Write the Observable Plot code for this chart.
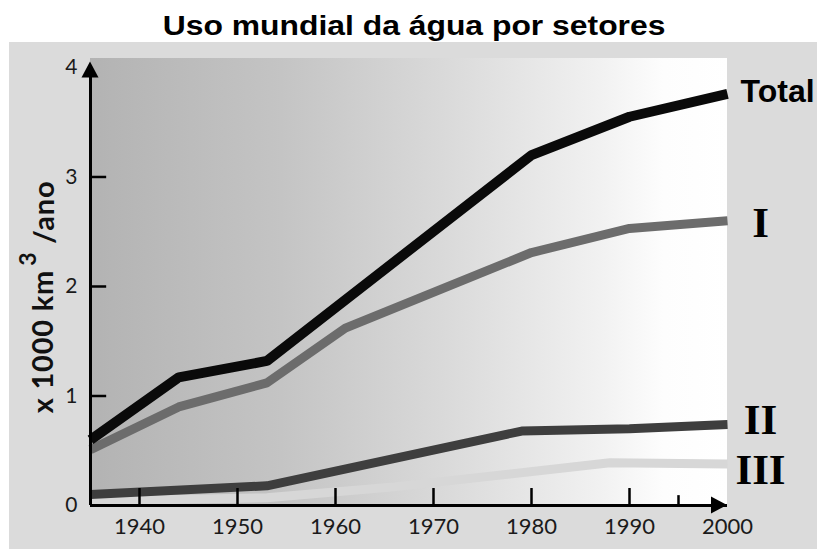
<!DOCTYPE html>
<html>
<head>
<meta charset="utf-8">
<script src="https://cdn.jsdelivr.net/npm/d3@7"></script>
<script src="https://cdn.jsdelivr.net/npm/@observablehq/plot@0.6"></script>
<style>
  html, body { margin: 0; padding: 0; background: #ffffff; }
  #title {
    width: 817px; height: 31px; padding-top: 11px; box-sizing: content-box;
    text-align: center; font-family: "Liberation Sans", Arial, sans-serif; font-weight: bold;
    font-size: 27px; line-height: normal; color: #000; overflow: hidden;
  }
  #title span { display: inline-block; transform: translateX(6px) scaleX(1.18); transform-origin: center; white-space: nowrap; }
  #chart svg { display: block; }
</style>
</head>
<body>
<div id="title"><span>Uso mundial da água por setores</span></div>
<div id="chart"></div>
<script>
// ---- data ----
const totalYears  = [1935, 1944, 1953, 1980, 1990, 2000];
const totalValues = [0.60, 1.17, 1.32, 3.20, 3.55, 3.76];

const sectorIYears  = [1935, 1944, 1953, 1961, 1980, 1990, 2000];
const sectorIValues = [0.51, 0.90, 1.12, 1.62, 2.31, 2.53, 2.60];

const sectorIIYears  = [1935, 1953, 1979, 1990, 2000];
const sectorIIValues = [0.10, 0.18, 0.68, 0.70, 0.74];

const sectorIIIYears  = [1935, 1953, 1966, 1988, 2000];
const sectorIIIValues = [0.04, 0.07, 0.17, 0.39, 0.38];

const seriesNames = ["Total", "I", "II", "III"];
const xTickYears = [1940, 1950, 1960, 1970, 1980, 1990, 2000];
const xMajorTicks = [1940, 1950, 1960, 1970, 1980, 1990];
const xMinorTicks = [1995];
const yTickValues = [0, 1, 2, 3, 4];
const yMarkTicks = [1, 2, 3];
const yLabel = ["x 1000 km", "3", " /ano"];

// ---- tables built from the arrays ----
const zip = (ys, vs) => ys.map((y, i) => ({year: y, value: vs[i]}));
const total = zip(totalYears, totalValues);
const s1 = zip(sectorIYears, sectorIValues);
const s2 = zip(sectorIIYears, sectorIIValues);
const s3 = zip(sectorIIIYears, sectorIIIValues);
const endOf = (name, ys, vs) => [{name, year: ys.at(-1), value: vs.at(-1)}];
const endTotal = endOf(seriesNames[0], totalYears, totalValues);
const endI = endOf(seriesNames[1], sectorIYears, sectorIValues);
const endII = endOf(seriesNames[2], sectorIIYears, sectorIIValues);
const endIII = endOf(seriesNames[3], sectorIIIYears, sectorIIIValues);

const X0 = 1935, X1 = 2000, YTOP = 4.082;

// gradient background of the plotting area
function background(index, scales, values, dim) {
  const g = d3.create("svg:g");
  const grad = g.append("defs").append("linearGradient").attr("id", "bgGrad")
    .attr("x1", 0).attr("x2", 1).attr("y1", 0).attr("y2", 0);
  [[0, "#b3b3b3"], [0.3, "#c4c4c4"], [0.55, "#d9d9d9"], [0.8, "#f1f1f1"], [0.9, "#fdfdfd"], [1, "#ffffff"]]
    .forEach(([o, c]) => grad.append("stop").attr("offset", o).attr("stop-color", c));
  g.append("rect")
    .attr("x", dim.marginLeft).attr("y", dim.marginTop)
    .attr("width", dim.width - dim.marginLeft - dim.marginRight)
    .attr("height", dim.height - dim.marginTop - dim.marginBottom)
    .attr("fill", "url(#bgGrad)");
  return g.node();
}

// arrow heads of the two axes
function arrows(index, scales) {
  const g = d3.create("svg:g").attr("fill", "#000");
  const xa = scales.x(X0), ya = scales.y(4.05);
  g.append("path").attr("d", `M${xa},${ya}L${xa + 8.5},${ya + 16}L${xa - 8.5},${ya + 16}Z`);
  const xb = scales.x(X1), yb = scales.y(0);
  g.append("path").attr("d", `M${xb},${yb}L${xb - 16},${yb - 8.5}L${xb - 16},${yb + 8.5}Z`);
  return g.node();
}

// rotated y-axis title with superscript
function yTitle(index, scales, values, dim) {
  const t = d3.create("svg:text")
    .attr("transform", `translate(53,${scales.y(1.9)}) rotate(-90)`)
    .attr("text-anchor", "middle")
    .attr("font-family", "Lato, 'DejaVu Sans', sans-serif")
    .attr("font-weight", "bold")
    .attr("font-size", 29)
    .attr("letter-spacing", 0.8)
    .attr("fill", "#111");
  t.append("tspan").text(yLabel[0]);
  t.append("tspan").attr("dy", "-0.72em").attr("dx", 4).attr("font-size", 23).text(yLabel[1]);
  t.append("tspan").attr("dy", "0.6em").text(yLabel[2]);
  return t.node();
}

const numeralStyle = {x: "year", y: "value", text: "name", textAnchor: "middle", dx: 33,
  fontSize: 43, fontWeight: "bold", fontFamily: "'Liberation Serif', 'Times New Roman', serif", fill: "#000"};

const chart = Plot.plot({
  width: 817,
  height: 507,
  marginLeft: 90,
  marginRight: 90,
  marginTop: 16,
  marginBottom: 44,
  style: {background: "linear-gradient(to right, #ffffff 0 9px, #dbdbdb 9px)", fontFamily: "Lato, sans-serif"},
  x: {domain: [X0, X1]},
  y: {domain: [0, YTOP]},
  marks: [
    background,
    Plot.line(s3, {x: "year", y: "value", stroke: "#d7d7d7", strokeWidth: 9, strokeLinejoin: "miter", strokeLinecap: "butt"}),
    Plot.line(s2, {x: "year", y: "value", stroke: "#3e3e3e", strokeWidth: 9, strokeLinejoin: "miter", strokeLinecap: "butt"}),
    Plot.line(s1, {x: "year", y: "value", stroke: "#6c6c6c", strokeWidth: 9, strokeLinejoin: "miter", strokeLinecap: "butt"}),
    Plot.line(total, {x: "year", y: "value", stroke: "#0a0a0a", strokeWidth: 10, strokeLinejoin: "miter", strokeLinecap: "butt"}),
    Plot.ruleY([0], {stroke: "#000", strokeWidth: 3}),
    Plot.ruleX([X0], {y1: 0, y2: 4.0, stroke: "#000", strokeWidth: 3}),
    Plot.ruleY(yMarkTicks, {x1: X0, x2: X0 + 1.65, stroke: "#000", strokeWidth: 2.5}),
    Plot.ruleX(xMajorTicks, {y1: 0, y2: 0.155, stroke: "#000", strokeWidth: 2.5}),
    Plot.ruleX(xMinorTicks, {y1: 0, y2: 0.09, stroke: "#000", strokeWidth: 2.5}),
    arrows,
    Plot.axisX({ticks: xTickYears, tickFormat: d => String(d), tickSize: 0, tickPadding: 13, fontSize: 22, fill: "#1a1a1a", label: null}),
    Plot.axisY({ticks: yTickValues, tickFormat: d => String(d), tickSize: 0, tickPadding: 13, fontSize: 21, fill: "#1a1a1a", label: null}),
    yTitle,
    Plot.text(endTotal, {x: "year", y: "value", text: "name", textAnchor: "start", dx: 13, dy: -2,
      fontSize: 32, fontWeight: "bold", fontFamily: "'Liberation Sans', Arial, sans-serif", fill: "#000"}),
    Plot.text(endI, {...numeralStyle, dy: 2}),
    Plot.text(endII, {...numeralStyle, dy: -4}),
    Plot.text(endIII, {...numeralStyle, dy: 6})
  ]
});
document.getElementById("chart").append(chart);
</script>
</body>
</html>
